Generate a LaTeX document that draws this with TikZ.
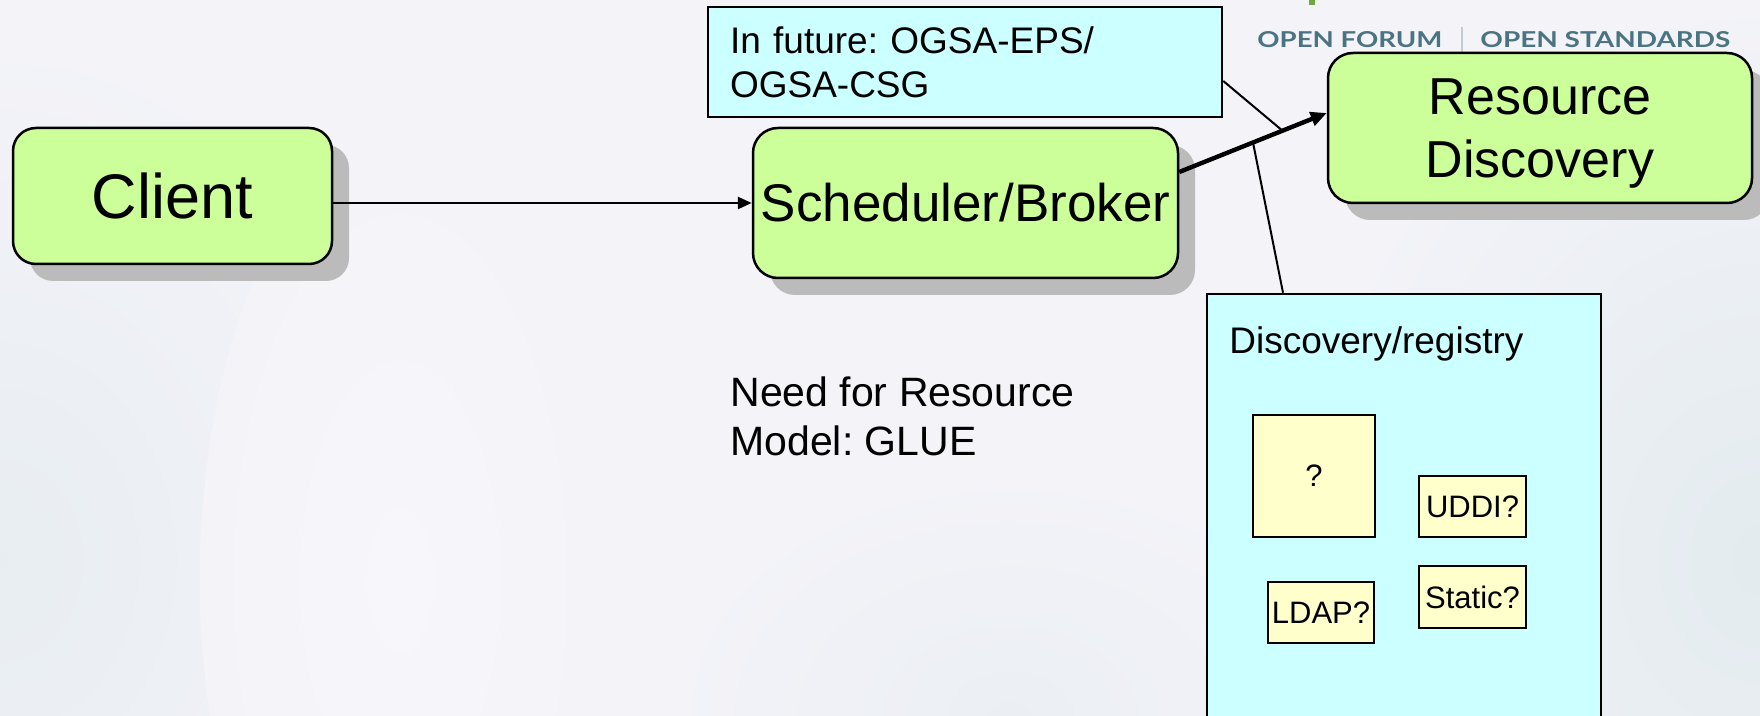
\documentclass[tikz,border=0pt]{standalone}
\usepackage{fontspec}
\setmainfont{Liberation Sans}
\newfontfamily\logofont{Lato}
\usetikzlibrary{arrows.meta,calc,shadows}

\definecolor{bgbase}{HTML}{F3F3F8}
\definecolor{bgblue}{HTML}{E3EBEF}
\definecolor{bglight}{HTML}{FAFAFD}
\definecolor{boxgreen}{HTML}{CCFF99}
\definecolor{notecyan}{HTML}{CCFFFF}
\definecolor{noteyellow}{HTML}{FFFFCC}
\definecolor{shadowgrey}{HTML}{BBBBBB}
\definecolor{logoteal}{HTML}{4A7482}
\definecolor{logogreen}{HTML}{6FA83F}

\begin{document}
\frenchspacing
\begin{tikzpicture}[x=0.5pt,y=-0.5pt,
  greenbox/.style={draw=black, line width=1.25pt, fill=boxgreen, inner sep=0pt,
    drop shadow={shadow xshift=8.5pt, shadow yshift=-8.5pt, fill=shadowgrey, opacity=1}},
  notebox/.style={draw=black, line width=1.25pt, fill=notecyan, inner sep=0pt},
  itembox/.style={draw=black, line width=1.25pt, fill=noteyellow, inner sep=0pt,
    font=\fontsize{15.5}{18}\selectfont},
  flow/.style={line width=1.3pt, -{Triangle[length=7pt,width=6pt]}},
  mainflow/.style={line width=2.2pt, -{Triangle[length=8pt,width=7pt]}},
  callout/.style={line width=1pt},
  logotext/.style={anchor=base west, inner sep=0pt, text=logoteal}
]
% page and backdrop
\fill[bgbase] (0,0) rectangle (1760,716);
\useasboundingbox (0,0) rectangle (1760,716);
\clip (0,0) rectangle (1760,716);
\shade[inner color=bgblue!70!bgbase, outer color=bgbase] (0,560) ellipse [x radius=420, y radius=520];
\shade[inner color=bgblue, outer color=bgbase] (1760,560) ellipse [x radius=460, y radius=560];
\shade[inner color=bglight!60!bgbase, outer color=bgbase] (400,580) ellipse [x radius=200, y radius=440];
\shade[inner color=bgblue!50!bgbase, outer color=bgbase] (1010,716) ellipse [x radius=340, y radius=240];

% logo strip
\fill[logogreen] (1309,0) rectangle (1315,5);
\node[logotext] (logoA) at (1257,48) {\resizebox{92.5pt}{8pt}{\logofont\bfseries OPEN FORUM}};
\draw[logoteal!35, line width=1pt] (1462,27) -- (1462,52);
\node[logotext] (logoB) at (1480,48) {\resizebox{125pt}{8pt}{\logofont\bfseries OPEN STANDARDS}};

% main boxes
\node[greenbox, rounded corners=11.5pt, minimum width=159.5pt, minimum height=68pt,
  font=\fontsize{31.5}{36}\selectfont] (client) at (172.5,196) {Client};
\node[greenbox, rounded corners=12.5pt, minimum width=212.5pt, minimum height=75pt,
  font=\fontsize{26.5}{30}\selectfont] (sched) at (965.5,203) {Scheduler/Broker};
\node[greenbox, rounded corners=12.5pt, minimum width=212pt, minimum height=75pt] (res) at (1540,128) {};
\node[align=center, inner sep=0pt, font=\fontsize{26}{31.5}\selectfont] (restext) at (1540,134) {Resource\\Discovery};

% note about future specifications
\node[notebox, minimum width=257pt, minimum height=55pt, text width=235pt, align=left,
  inner xsep=11pt, font=\fontsize{18.5}{22}\selectfont] (info) at (965,62) {In future: OGSA-EPS/\\OGSA-CSG};

% discovery / registry panel
\node[notebox, minimum width=197pt, minimum height=233pt] (disc) at (1404,527) {};
\node[anchor=base west, inner sep=0pt, font=\fontsize{18.5}{22}\selectfont] (disctitle) at (1229,354) {Discovery/registry};
\node[itembox, minimum width=61pt, minimum height=61pt] (unknown) at (1314,476) {?};
\node[itembox, minimum width=53.5pt, minimum height=30.5pt] (uddi) at (1472.5,506.5) {UDDI?};
\node[itembox, minimum width=53.5pt, minimum height=31pt] (static) at (1472.5,597) {Static?};
\node[itembox, minimum width=53pt, minimum height=30.5pt] (ldap) at (1321,612.5) {LDAP?};

% free text
\node[anchor=north west, inner sep=0pt, align=left, font=\fontsize{20.5}{24.5}\selectfont] (need) at (730,376) {Need for Resource\\Model: GLUE};

% connectors
\draw[flow] (client.east |- sched.west) -- (sched.west);
\coordinate (arrS) at ([yshift=15.5pt]sched.east);
\coordinate (arrE) at ([yshift=7.5pt]res.west);
\draw[mainflow] (arrS) -- (arrE);
\draw[callout] ([yshift=-9.5pt]info.east) -- ($(arrS)!0.7!(arrE)$);
\draw[callout] ($(arrS)!0.5!(arrE)$) -- ([xshift=-60.5pt]disc.north);
\end{tikzpicture}
\end{document}
